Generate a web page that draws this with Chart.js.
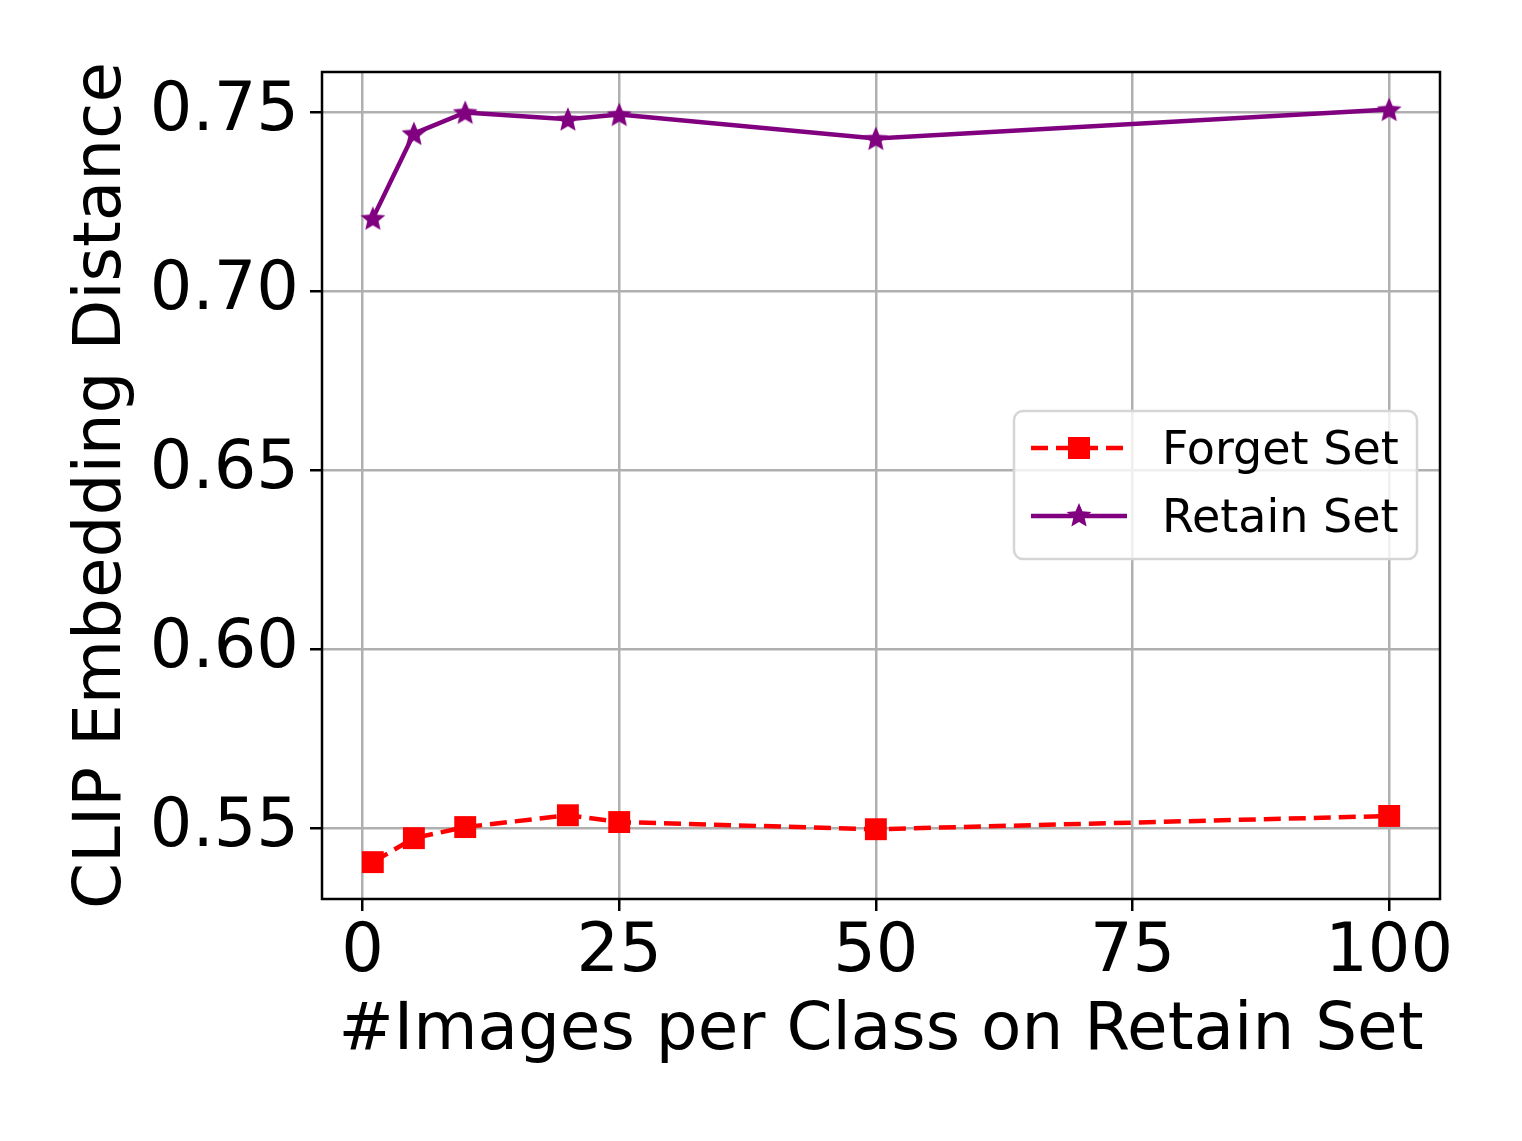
<!DOCTYPE html>
<html>
<head>
<meta charset="utf-8">
<script src="https://cdn.jsdelivr.net/npm/chart.js@4.4.1/dist/chart.umd.min.js"></script>
<style>
  html, body { margin: 0; padding: 0; background: #fff; }
  #wrap { width: 1522px; height: 1141px; }
</style>
</head>
<body>
<div id="wrap"><canvas id="chart" width="1522" height="1141"></canvas></div>
<script>
// ─── DATA ─────────────────────────────────────────────────────────────────────
const IMAGES_PER_CLASS = [1, 5, 10, 20, 25, 50, 100];
const FORGET_SET = [0.5405, 0.5472, 0.5503, 0.5536, 0.5517, 0.5497, 0.5534];
const RETAIN_SET = [0.7204, 0.7441, 0.7500, 0.7481, 0.7494, 0.7427, 0.7508];
const X_TICKS = [0, 25, 50, 75, 100];
const Y_TICKS = [0.55, 0.60, 0.65, 0.70, 0.75];

const FONT = "'DejaVu Sans', sans-serif";
const GRID = "#b0b0b0";

// ─── MARKERS ──────────────────────────────────────────────────────────────────
function starPath(ctx, cx, cy, outer, inner) {
  ctx.beginPath();
  for (let i = 0; i < 10; i++) {
    const r = i % 2 === 0 ? outer : inner;
    const a = -Math.PI / 2 + i * Math.PI / 5;
    const px = cx + r * Math.cos(a), py = cy + r * Math.sin(a);
    if (i === 0) ctx.moveTo(px, py); else ctx.lineTo(px, py);
  }
  ctx.closePath();
}

function makeStar(size, color) {
  const c = document.createElement("canvas");
  c.width = size; c.height = size;
  const g = c.getContext("2d");
  g.fillStyle = color;
  starPath(g, size / 2, size / 2 + 1, size / 2, size / 4.4);
  g.fill();
  return c;
}
const STAR = makeStar(26, "purple");

// ─── PLUGINS ──────────────────────────────────────────────────────────────────
const framePlugin = {
  id: "frame",
  afterDatasetsDraw(chart) {
    const { ctx, chartArea: a } = chart;
    ctx.save();
    ctx.strokeStyle = "#000";
    ctx.lineWidth = 2.5;
    ctx.strokeRect(a.left, a.top, a.right - a.left, a.bottom - a.top);
    ctx.restore();
  }
};

const legendPlugin = {
  id: "boxLegend",
  afterDraw(chart) {
    const { ctx } = chart;
    const x = 1014, y = 411, w = 403, h = 148, r = 9;
    ctx.save();
    ctx.beginPath();
    ctx.roundRect(x, y, w, h, r);
    ctx.fillStyle = "rgba(255,255,255,0.8)";
    ctx.fill();
    ctx.strokeStyle = "#d5d5d5";
    ctx.lineWidth = 2.5;
    ctx.stroke();

    const rows = chart.data.datasets.map((ds, i) => ({ ds, cy: 448 + i * 68 }));
    rows.forEach(({ ds, cy }) => {
      ctx.strokeStyle = ds.borderColor;
      ctx.lineWidth = ds.borderWidth;
      ctx.setLineDash(ds.borderDash || []);
      ctx.beginPath();
      ctx.moveTo(1031, cy);
      ctx.lineTo(1127, cy);
      ctx.stroke();
      ctx.setLineDash([]);
      if (ds.pointStyle === "rect") {
        ctx.fillStyle = ds.borderColor;
        ctx.fillRect(1079 - 11, cy - 11, 22, 22);
      } else {
        ctx.drawImage(STAR, 1079 - 13, cy - 14);
      }
      ctx.fillStyle = "#000";
      ctx.font = `46px ${FONT}`;
      ctx.textBaseline = "middle";
      ctx.textAlign = "left";
      ctx.fillText(ds.label, 1162, cy + 4);
    });
    ctx.restore();
  }
};

// ─── CHART ────────────────────────────────────────────────────────────────────
new Chart(document.getElementById("chart"), {
  type: "line",
  data: {
    datasets: [
      {
        label: "Forget Set",
        data: IMAGES_PER_CLASS.map((x, i) => ({ x, y: FORGET_SET[i] })),
        borderColor: "red",
        backgroundColor: "red",
        borderWidth: 4.5,
        borderDash: [17, 8],
        pointStyle: "rect",
        pointRadius: 15.5,
        pointBorderWidth: 0,
        pointBackgroundColor: "red",
        tension: 0,
      },
      {
        label: "Retain Set",
        data: IMAGES_PER_CLASS.map((x, i) => ({ x, y: RETAIN_SET[i] })),
        borderColor: "purple",
        backgroundColor: "purple",
        borderWidth: 4.5,
        pointStyle: STAR,
        pointRadius: 13,
        tension: 0,
      },
    ]
  },
  options: {
    responsive: false,
    animation: false,
    layout: { padding: { top: 72, right: 82, left: 0, bottom: 0 } },
    scales: {
      x: {
        type: "linear",
        min: -3.95, max: 104.95,
        afterBuildTicks: s => { s.ticks = X_TICKS.map(v => ({ value: v })); },
        afterFit: s => { s.height = 242; },
        grid: { color: GRID, lineWidth: 2.5, tickColor: "#000", tickLength: 12 },
        border: { display: false },
        ticks: {
          color: "#000", padding: 2, maxRotation: 0,
          font: { family: FONT, size: 67 },
          callback: v => String(v),
        },
        title: {
          display: true, text: "#Images per Class on Retain Set", color: "#000",
          font: { family: FONT, size: 66 }, padding: { top: 0, bottom: 70 },
        },
      },
      y: {
        type: "linear",
        min: 0.5302, max: 0.7613,
        afterBuildTicks: s => { s.ticks = Y_TICKS.map(v => ({ value: v })); },
        afterFit: s => { s.width = 322; },
        grid: { color: GRID, lineWidth: 2.5, tickColor: "#000", tickLength: 12 },
        border: { display: false },
        ticks: {
          color: "#000", padding: 11,
          font: { family: FONT, size: 67 },
          callback: v => v.toFixed(2),
        },
        title: {
          display: true, text: "CLIP Embedding Distance", color: "#000",
          font: { family: FONT, size: 66 }, padding: { top: 63, bottom: 0 },
        },
      },
    },
    plugins: {
      legend: { display: false },
      tooltip: { enabled: false },
    }
  },
  plugins: [framePlugin, legendPlugin]
});
</script>
</body>
</html>
